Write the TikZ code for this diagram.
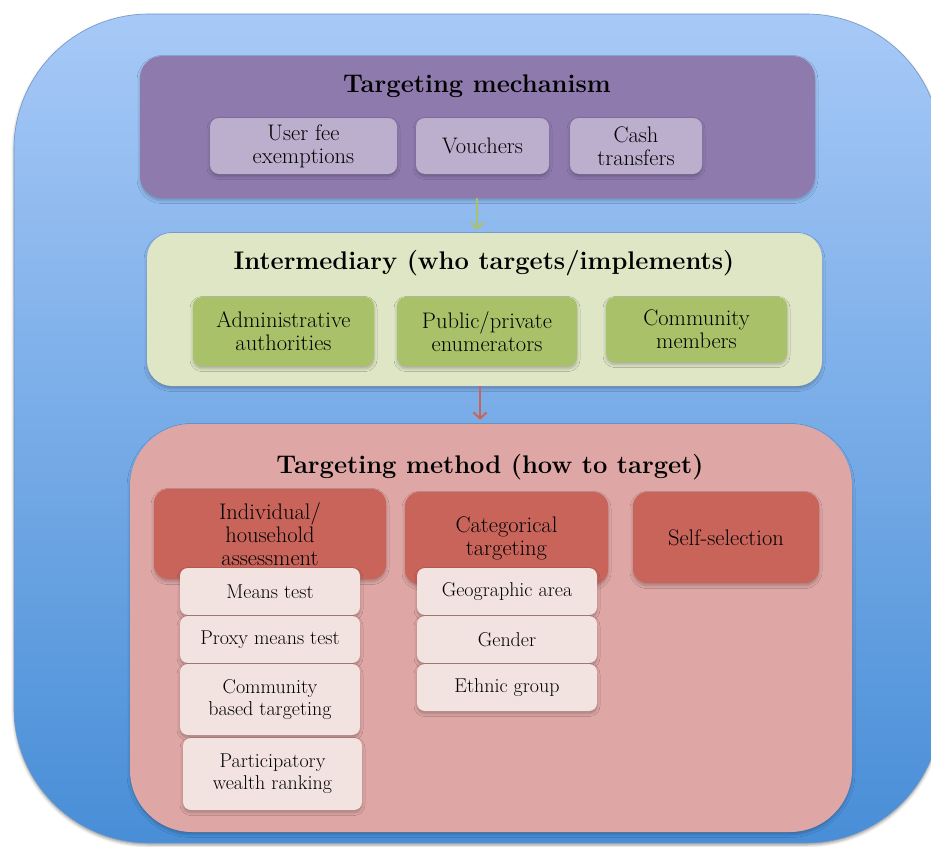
\documentclass[tikz,border=0pt]{standalone}
\usetikzlibrary{shadows.blur,arrows.meta}

\definecolor{skytop}{RGB}{167,201,247}
\definecolor{skybot}{RGB}{72,142,215}
\definecolor{skyedge}{RGB}{112,150,196}
\definecolor{mechbg}{RGB}{143,122,174}
\definecolor{mechitem}{RGB}{188,174,205}
\definecolor{interbg}{RGB}{223,230,198}
\definecolor{interitem}{RGB}{169,194,106}
\definecolor{methbg}{RGB}{222,166,164}
\definecolor{methitem}{RGB}{201,100,91}
\definecolor{subitem}{RGB}{242,226,224}

\tikzset{
  softshadow/.style={blur shadow={shadow xshift=0pt, shadow yshift=-2.5pt,
      shadow blur radius=3pt, shadow opacity=25}},
  panel/.style={fill=#1, inner sep=0pt, softshadow},
  titletext/.style={inner sep=0pt, font=\fontsize{25.5}{28}\selectfont\bfseries},
  itembox/.style={fill=#1, rounded corners=9pt, inner sep=0pt, align=center,
      softshadow, font=\fontsize{22.5}{23}\selectfont},
  subbox/.style={fill=subitem, rounded corners=8pt, inner sep=0pt, align=center,
      softshadow, minimum width=180pt, font=\fontsize{20}{22}\selectfont},
  flow/.style={draw=#1, line width=2pt, -{Straight Barb[length=6pt,width=13pt,line width=2pt]}},
}

\begin{document}
\begin{tikzpicture}[x=1pt, y=-1pt]
  \useasboundingbox (0,0) rectangle (931,846);

  % large blue backdrop
  \path[draw=skyedge, line width=0.6pt, top color=skytop, bottom color=skybot,
        rounded corners=135pt,
        blur shadow={shadow xshift=0pt, shadow yshift=-2pt, shadow blur radius=3pt, shadow opacity=40}]
    (14,14) rectangle (941,843);

  % ---- targeting mechanism ----
  \node[panel=mechbg, rounded corners=22pt, minimum width=675pt, minimum height=142pt]
    (mech) at (477.5,127) {};
  \node[titletext] (mechtitle) at (477,86) {Targeting mechanism};
  \node[itembox=mechitem, minimum width=187pt, minimum height=56pt] (userfee) at (303.5,146)
    {User fee\\exemptions};
  \node[itembox=mechitem, minimum width=133pt, minimum height=56pt] (vouchers) at (482.5,146)
    {Vouchers};
  \node[itembox=mechitem, minimum width=132pt, minimum height=56pt] (cash) at (636,146)
    {Cash\\transfers};

  % ---- intermediary ----
  \node[panel=interbg, rounded corners=25pt, minimum width=675pt, minimum height=153pt]
    (inter) at (484.5,309.5) {};
  \node[titletext] (intertitle) at (484,263) {Intermediary (who targets/implements)};
  \node[itembox=interitem, minimum width=181pt, minimum height=69pt] (admin) at (283.5,331.5)
    {Administrative\\authorities};
  \node[itembox=interitem, minimum width=180pt, minimum height=69pt] (enum) at (487,331.5)
    {Public/private\\enumerators};
  \node[itembox=interitem, minimum width=181pt, minimum height=65pt] (commem) at (696.5,329.5)
    {Community\\members};

  % ---- targeting method ----
  \node[panel=methbg, rounded corners=62pt, minimum width=722pt, minimum height=408pt]
    (meth) at (491,628) {};
  \node[titletext] (methtitle) at (490,467) {Targeting method (how to target)};
  \node[itembox=methitem, rounded corners=14pt, minimum width=232pt, minimum height=90pt]
    (indiv) at (270,534) {Individual/\\household\\assessment};
  \node[itembox=methitem, rounded corners=14pt, minimum width=203pt, minimum height=92pt]
    (categ) at (506.5,538) {Categorical\\targeting};
  \node[itembox=methitem, rounded corners=14pt, minimum width=186pt, minimum height=91pt]
    (selfsel) at (726,537.5) {Self-selection};

  % individual / household assessment methods
  \node[subbox, minimum height=47pt] (means) at (270,591.5) {Means test};
  \node[subbox, minimum height=47pt] (proxy) at (270,639.5) {Proxy means test};
  \node[subbox, minimum height=71pt] (cbt) at (270,699.5) {Community\\based targeting};
  \node[subbox, minimum width=179pt, minimum height=72pt] (pwr) at (272.5,774)
    {Participatory\\wealth ranking};

  % categorical targeting criteria
  \node[subbox, minimum height=47pt] (geo) at (507,591.5) {Geographic area};
  \node[subbox, minimum height=47pt] (gender) at (507,639.5) {Gender};
  \node[subbox, minimum height=47pt] (ethnic) at (507,687.5) {Ethnic group};

  % flow between the panels
  \draw[flow=interitem] ([xshift=-0.5pt]mech.south) -- ([xshift=-0.5pt,yshift=3pt]mech.south |- inter.north);
  \draw[flow=methitem] ([xshift=-4.5pt]inter.south) -- ([xshift=-4.5pt,yshift=4pt]inter.south |- meth.north);
\end{tikzpicture}
\end{document}
